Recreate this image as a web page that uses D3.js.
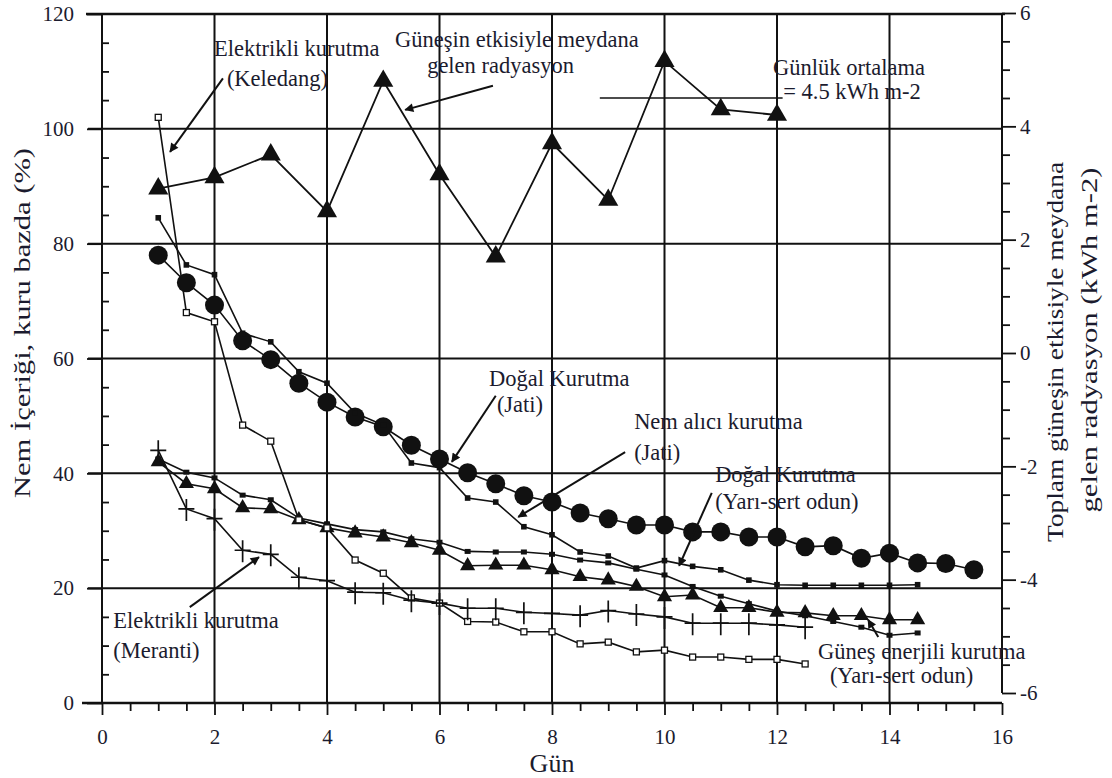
<!DOCTYPE html>
<html><head><meta charset="utf-8">
<script src="https://cdn.jsdelivr.net/npm/d3@7"></script>
<style>body{margin:0;background:#fff}svg{display:block}</style>
</head><body>
<svg id="c" width="1112" height="778"></svg>
<script>
// ---------- DATA ----------
const radDays = [1,2,3,4,5,6,7,8,9,10,11,12];
const radValues = [2.9,3.1,3.5,2.5,4.8,3.15,1.7,3.7,2.7,5.15,4.3,4.2];
const radAverage = 4.5;
const radAverageSpan = [8.85,12.1];

const jatiNaturalDays = [1,1.5,2,2.5,3,3.5,4,4.5,5,5.5,6,6.5,7,7.5,8,8.5,9,9.5,10,10.5,11,11.5,12,12.5,13,13.5,14,14.5,15,15.5];
const jatiNatural = [78,73.2,69.3,63.1,59.8,55.7,52.4,49.8,48.1,44.9,42.5,40.1,38.2,36.1,35.0,33.1,32.1,31.0,31.0,29.8,29.8,28.9,28.9,27.2,27.4,25.2,26.1,24.4,24.3,23.2];

const keledangDays = [1,1.5,2,2.5,3,3.5,4,4.5,5,5.5,6,6.5,7,7.5,8,8.5,9,9.5,10,10.5,11,11.5,12,12.5];
const keledangElectric = [102,68,66.4,48.4,45.6,31.9,30.5,24.9,22.6,18.3,17.4,14.2,14.1,12.4,12.4,10.3,10.6,8.9,9.2,8.0,8.0,7.6,7.6,6.8];

const jatiDesiccantDays = [1,1.5,2,2.5,3,3.5,4,4.5,5,5.5,6,6.5,7,7.5,8,8.5,9,9.5,10,10.5,11,11.5,12,12.5,13,13.5,14,14.5];
const jatiDesiccant = [84.5,76.3,74.6,64.4,62.9,57.7,55.7,50.5,48.4,41.8,41.0,35.7,35.0,30.7,29.3,26.3,25.6,23.5,24.8,23.8,23.2,21.4,20.6,20.5,20.5,20.5,20.5,20.6];

const hardwoodNaturalDays = [1,1.5,2,2.5,3,3.5,4,4.5,5,5.5,6,6.5,7,7.5,8,8.5,9,9.5,10,10.5,11,11.5,12,12.5,13,13.5,14,14.5];
const hardwoodNatural = [42.5,40.2,39.2,36.2,35.4,32.2,31.2,30.2,29.8,28.6,28.0,26.4,26.3,26.3,25.9,24.9,24.4,23.3,22.3,20.3,18.6,17.3,16.0,15.2,14.2,13.2,11.8,12.2];

const hardwoodSolarDays = [1,1.5,2,2.5,3,3.5,4,4.5,5,5.5,6,6.5,7,7.5,8,8.5,9,9.5,10,10.5,11,11.5,12,12.5,13,13.5,14,14.5];
const hardwoodSolar = [42,38.2,37.3,34,33.8,31.9,30.5,29.6,28.9,27.9,26.6,23.9,24,24,23.2,22,21.4,20.3,18.5,18.8,16.6,16.6,15.8,15.7,15.2,15.2,14.5,14.5];

const merantiDays = [1,1.5,2,2.5,3,3.5,4,4.5,5,5.5,6,6.5,7,7.5,8,8.5,9,9.5,10,10.5,11,11.5,12,12.5];
const merantiElectric = [44,33.8,32.1,26.6,25.9,21.9,21.3,19.3,19.2,17.9,17.4,16.5,16.5,15.8,15.6,15.3,16.1,15.5,15.0,13.9,13.9,13.9,13.6,13.2];

const xTicks = [0,2,4,6,8,10,12,14,16];
const yLeftTicks = [0,20,40,60,80,100,120];
const yRightTicks = [-6,-4,-2,0,2,4,6];

const xTitle = "Gün";
const yLeftTitle = "Nem İçeriği, kuru bazda (%)";
const yRightTitle = ["Toplam güneşin etkisiyle meydana","gelen radyasyon (kWh m-2)"];

// annotations in data units (day, moisture %)
const labelLines = [
  {t:"Elektrikli kurutma", d:1.99, v:112.6},
  {t:"(Keledang)", d:2.22, v:107.4},
  {t:"Güneşin etkisiyle meydana", d:5.21, v:114.2},
  {t:"gelen radyasyon", d:5.78, v:109.8},
  {t:"Günlük ortalama", d:11.93, v:109.4},
  {t:"= 4.5 kWh m-2", d:12.11, v:105.2},
  {t:"Doğal Kurutma", d:6.88, v:55.2},
  {t:"(Jati)", d:7.02, v:50.7},
  {t:"Nem alıcı kurutma", d:9.46, v:47.7},
  {t:"(Jati)", d:9.46, v:42.3},
  {t:"Doğal Kurutma", d:10.9, v:38.5},
  {t:"(Yarı-sert odun)", d:10.9, v:33.8},
  {t:"Elektrikli kurutma", d:0.2, v:13.0},
  {t:"(Meranti)", d:0.2, v:7.9},
  {t:"Güneş enerjili kurutma", d:12.73, v:7.7},
  {t:"(Yarı-sert odun)", d:12.94, v:3.5}
];
const arrows = [
  {d0:2.15,v0:108.8,d1:1.21,v1:96.0},
  {d0:6.95,v0:107.5,d1:5.39,v1:103.3},
  {d0:7.0,v0:53.5,d1:6.22,v1:42.0},
  {d0:9.3,v0:43.7,d1:7.4,v1:32.4},
  {d0:10.84,v0:36.6,d1:10.26,v1:23.9},
  {d0:1.56,v0:16.7,d1:2.79,v1:25.4},
  {d0:13.8,v0:11.5,d1:13.62,v1:14.5}
];

// ---------- CHART ----------
const FONT = "'Liberation Serif','Times New Roman',serif";
const INK = "#111";
const TXT = "#1b1b2e";
const svg = d3.select("#c");
const x = d3.scaleLinear().domain([0,16]).range([102,1002]);
const yL = d3.scaleLinear().domain([0,120]).range([703,14]);
const yR = d3.scaleLinear().domain([-6,6]).range([693,13]);

// grid
const g = svg.append("g");
g.selectAll(".hg").data([20,40,60,80,100]).join("line")
  .attr("x1", x(0)-14).attr("x2", x(16)).attr("y1", d=>yL(d)).attr("y2", d=>yL(d))
  .attr("stroke", INK).attr("stroke-width", 2);
g.selectAll(".vg").data([2,4,6,8,10,12,14]).join("line")
  .attr("x1", d=>x(d)).attr("x2", d=>x(d)).attr("y1", yL(120)).attr("y2", yL(0))
  .attr("stroke", INK).attr("stroke-width", 2);
// spines
g.append("line").attr("x1",x(0)-16).attr("x2",x(16)+3).attr("y1",yL(120)).attr("y2",yL(120)).attr("stroke",INK).attr("stroke-width",2.5);
g.append("line").attr("x1",x(0)-20).attr("x2",x(16)).attr("y1",yL(0)).attr("y2",yL(0)).attr("stroke",INK).attr("stroke-width",2.5);
g.append("line").attr("x1",x(0)).attr("x2",x(0)).attr("y1",yL(120)).attr("y2",yL(0)).attr("stroke",INK).attr("stroke-width",2);
g.append("line").attr("x1",x(16)).attr("x2",x(16)).attr("y1",yL(120)).attr("y2",yR(-6)).attr("stroke",INK).attr("stroke-width",2);

function styleAxis(sel, fs){
  sel.select(".domain").remove();
  sel.selectAll(".tick line").attr("stroke", INK).attr("stroke-width", 1.8);
  sel.selectAll(".tick text").attr("fill", TXT).style("font-family", FONT).style("font-size", fs+"px");
}
// left axis
svg.append("g").attr("transform",`translate(${x(0)},0)`)
  .call(d3.axisLeft(yL).tickValues(yLeftTicks).tickSize(15).tickPadding(13))
  .call(s=>styleAxis(s,21));
const leftMinor = d3.range(5,120,5).filter(v=>v%20!==0);
svg.append("g").attr("transform",`translate(${x(0)},0)`)
  .call(d3.axisRight(yL).tickValues(leftMinor).tickSize(7).tickFormat(""))
  .call(s=>styleAxis(s,21));
// bottom axis
svg.append("g").attr("transform",`translate(0,${yL(0)})`)
  .call(d3.axisBottom(x).tickValues(xTicks).tickSize(12).tickPadding(14))
  .call(s=>styleAxis(s,21));
const xMinor = d3.range(0.5,16,0.5).filter(v=>v%2!==0);
svg.append("g").attr("transform",`translate(0,${yL(0)})`)
  .call(d3.axisBottom(x).tickValues(xMinor).tickSize(8).tickFormat(""))
  .call(s=>styleAxis(s,21));
// right axis
svg.append("g").attr("transform",`translate(${x(16)},0)`)
  .call(d3.axisRight(yR).tickValues(yRightTicks).tickSize(14).tickPadding(4).tickFormat(d=>String(d)))
  .call(s=>styleAxis(s,21));
const rMinor = d3.range(-5.5,6,0.5).filter(v=>v%2!==0);
svg.append("g").attr("transform",`translate(${x(16)},0)`)
  .call(d3.axisRight(yR).tickValues(rMinor).tickSize(8).tickFormat(""))
  .call(s=>styleAxis(s,21));

// titles
svg.append("text").attr("x", 552).attr("y", 772).attr("text-anchor","middle")
  .style("font-family",FONT).style("font-size","26px").attr("fill",TXT).text(xTitle);
svg.append("text").attr("transform","translate(30,323) rotate(-90)").attr("text-anchor","middle")
  .attr("textLength",350).attr("lengthAdjust","spacingAndGlyphs")
  .style("font-family",FONT).style("font-size","24px").attr("fill",TXT).text(yLeftTitle);
svg.append("text").attr("transform","translate(1063,352) rotate(-90)").attr("text-anchor","middle")
  .attr("textLength",380).attr("lengthAdjust","spacingAndGlyphs")
  .style("font-family",FONT).style("font-size","24px").attr("fill",TXT).text(yRightTitle[0]);
svg.append("text").attr("transform","translate(1097,340) rotate(-90)").attr("text-anchor","middle")
  .attr("textLength",345).attr("lengthAdjust","spacingAndGlyphs")
  .style("font-family",FONT).style("font-size","24px").attr("fill",TXT).text(yRightTitle[1]);

// ---------- SERIES ----------
function zip(days, vals){ return days.map((d,i)=>({d, v:vals[i]})); }
const lineL = d3.line().x(p=>x(p.d)).y(p=>yL(p.v));
const lineR = d3.line().x(p=>x(p.d)).y(p=>yR(p.v));
const lg = svg.append("g").attr("fill","none").attr("stroke",INK).attr("stroke-width",1.6);

const sRad = zip(radDays, radValues);
const sJN = zip(jatiNaturalDays, jatiNatural);
const sKel = zip(keledangDays, keledangElectric);
const sJD = zip(jatiDesiccantDays, jatiDesiccant);
const sHN = zip(hardwoodNaturalDays, hardwoodNatural);
const sHS = zip(hardwoodSolarDays, hardwoodSolar);
const sMer = zip(merantiDays, merantiElectric);

lg.append("path").attr("d", lineR(sRad)).attr("stroke-width",1.8);
lg.append("line").attr("x1",x(radAverageSpan[0])).attr("x2",x(radAverageSpan[1]))
  .attr("y1",yR(radAverage)).attr("y2",yR(radAverage)).attr("stroke-width",1.6);
lg.append("path").attr("d", lineL(sJN));
lg.append("path").attr("d", lineL(sKel));
lg.append("path").attr("d", lineL(sJD));
lg.append("path").attr("d", lineL(sHN));
lg.append("path").attr("d", lineL(sHS));
lg.append("path").attr("d", lineL(sMer));

const mg = svg.append("g");
// radiation triangles
mg.selectAll(".rt").data(sRad).join("path")
  .attr("d", d3.symbol(d3.symbolTriangle, 175)())
  .attr("transform", p=>`translate(${x(p.d)},${yR(p.v)})`).attr("fill",INK);
// big circles
mg.selectAll(".jc").data(sJN).join("circle")
  .attr("cx",p=>x(p.d)).attr("cy",p=>yL(p.v)).attr("r",9.5).attr("fill",INK);
// medium triangles
mg.selectAll(".ht").data(sHS).join("path")
  .attr("d", d3.symbol(d3.symbolTriangle, 100)())
  .attr("transform", p=>`translate(${x(p.d)},${yL(p.v)})`).attr("fill",INK);
// small filled squares
mg.selectAll(".sq1").data(sJD).join("rect")
  .attr("x",p=>x(p.d)-2.8).attr("y",p=>yL(p.v)-2.8).attr("width",5.6).attr("height",5.6).attr("fill",INK);
mg.selectAll(".sq2").data(sHN).join("rect")
  .attr("x",p=>x(p.d)-3).attr("y",p=>yL(p.v)-2.5).attr("width",6).attr("height",5).attr("fill",INK);
// open squares
mg.selectAll(".oq").data(sKel).join("rect")
  .attr("x",p=>x(p.d)-3).attr("y",p=>yL(p.v)-3).attr("width",6).attr("height",6)
  .attr("fill","#fff").attr("stroke",INK).attr("stroke-width",1.3);
// crosses
mg.selectAll(".cr").data(sMer).join("path")
  .attr("d", p=>{const cx=x(p.d), cy=yL(p.v); return `M${cx-8},${cy}H${cx+8}M${cx},${cy-10}V${cy+12}`;})
  .attr("stroke",INK).attr("stroke-width",1.7).attr("fill","none");

// ---------- ANNOTATIONS ----------
const ag = svg.append("g");
ag.selectAll("text").data(labelLines).join("text")
  .attr("x",a=>x(a.d)).attr("y",a=>yL(a.v))
  .style("font-family",FONT).style("font-size","22.5px").attr("fill",TXT).text(a=>a.t);
svg.append("defs").append("marker").attr("id","ah").attr("viewBox","0 0 10 10")
  .attr("refX",9).attr("refY",5).attr("markerWidth",11).attr("markerHeight",9)
  .attr("markerUnits","userSpaceOnUse").attr("orient","auto")
  .append("path").attr("d","M0,0L10,5L0,10Z").attr("fill",INK);
ag.selectAll("line").data(arrows).join("line")
  .attr("x1",a=>x(a.d0)).attr("y1",a=>yL(a.v0)).attr("x2",a=>x(a.d1)).attr("y2",a=>yL(a.v1))
  .attr("stroke",INK).attr("stroke-width",2).attr("marker-end","url(#ah)");
</script>
</body></html>
